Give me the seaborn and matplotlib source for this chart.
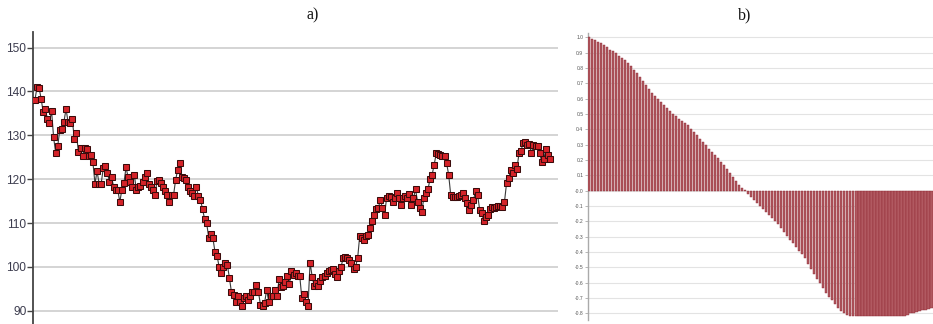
import numpy as np
import pandas as pd
import matplotlib
matplotlib.use("Agg")
import matplotlib.pyplot as plt
import seaborn as sns

# ---- data: panel a) price series ----
series_a = [
    138.1, 141.1, 140.8, 138.2, 135.2, 136.0, 133.7, 132.8, 135.6, 129.5,
    126.0, 127.6, 131.3, 131.4, 133.1, 136.0, 133.0, 132.9, 133.8, 129.2,
    130.6, 126.1, 127.1, 125.2, 127.1, 126.9, 125.3, 125.6, 123.8, 119.0,
    121.8, 119.0, 119.0, 122.5, 122.9, 121.5, 119.3, 120.5, 118.3, 117.6,
    117.6, 114.8, 117.6, 119.1, 122.7, 120.5, 119.3, 118.3, 121.0, 117.6,
    118.3, 118.5, 119.3, 120.6, 121.5, 119.0, 118.3, 117.6, 116.4, 119.5,
    119.9, 119.1, 118.2, 117.2, 116.4, 114.9, 116.4, 116.4, 119.9, 122.1,
    123.7, 120.6, 120.2, 119.9, 118.3, 117.2, 116.8, 116.1, 118.3, 116.1,
    115.3, 113.2, 110.9, 110.0, 106.6, 107.6, 106.6, 103.5, 102.6, 100.1,
    98.7, 100.1, 100.9, 100.5, 97.5, 94.2, 93.7, 92.1, 93.3, 92.1,
    91.0, 92.9, 93.3, 92.5, 93.3, 94.4, 94.4, 96.0, 94.4, 91.4,
    91.0, 91.8, 94.8, 92.1, 93.3, 93.3, 94.8, 93.3, 97.2, 95.4,
    95.6, 96.5, 98.0, 96.2, 99.0, 98.2, 98.6, 98.0, 98.0, 92.9,
    93.9, 91.9, 91.0, 101.0, 97.8, 95.7, 96.3, 95.7, 96.7, 97.8,
    98.0, 98.6, 99.0, 99.2, 99.5, 98.4, 97.8, 99.0, 100.1, 102.0,
    102.3, 102.0, 101.5, 100.9, 99.5, 100.1, 102.0, 107.1, 106.6, 106.2,
    107.0, 107.3, 108.8, 110.4, 111.9, 113.3, 113.4, 115.3, 113.4, 111.9,
    115.7, 116.1, 115.9, 114.9, 115.7, 116.8, 115.7, 114.2, 115.7, 116.1,
    115.7, 116.7, 114.2, 115.7, 117.7, 114.7, 113.4, 112.6, 115.7, 116.8,
    117.7, 120.0, 121.0, 123.3, 125.9, 125.8, 125.6, 125.2, 125.2, 123.7,
    121.0, 116.4, 115.9, 115.9, 115.9, 116.2, 116.4, 116.8, 115.7, 114.6,
    113.0, 114.2, 115.3, 117.2, 116.4, 113.0, 112.3, 110.4, 111.4, 111.9,
    113.2, 113.6, 113.4, 113.6, 113.9, 113.9, 113.6, 114.9, 119.1, 120.2,
    122.1, 121.4, 123.3, 122.3, 125.9, 126.5, 128.2, 128.4, 127.8, 128.1,
    125.9, 127.8, 127.6, 127.6, 125.9, 124.0, 124.6, 126.9, 125.6, 124.6,
]
yticks_a = [90, 100, 110, 120, 130, 140, 150]

# ---- data: panel b) autocorrelation ----
acf_b = [
    1.00, 0.99, 0.98, 0.97, 0.96, 0.95, 0.935, 0.92, 0.91, 0.895,
    0.88, 0.865, 0.85, 0.83, 0.81, 0.79, 0.765, 0.74, 0.715, 0.69,
    0.665, 0.64, 0.62, 0.60, 0.58, 0.56, 0.54, 0.52, 0.50, 0.485,
    0.47, 0.455, 0.44, 0.425, 0.405, 0.385, 0.36, 0.34, 0.315, 0.295,
    0.27, 0.25, 0.23, 0.21, 0.19, 0.165, 0.14, 0.115, 0.09, 0.065,
    0.04, 0.02, 0.003, -0.02, -0.04, -0.06, -0.08, -0.10, -0.12, -0.14,
    -0.16, -0.18, -0.20, -0.22, -0.245, -0.27, -0.295, -0.32, -0.34, -0.365,
    -0.39, -0.415, -0.44, -0.475, -0.51, -0.545, -0.575, -0.605, -0.635, -0.665,
    -0.69, -0.715, -0.74, -0.765, -0.785, -0.80, -0.81, -0.815, -0.82, -0.82,
    -0.82, -0.82, -0.82, -0.82, -0.82, -0.82, -0.82, -0.82, -0.82, -0.82,
    -0.82, -0.82, -0.82, -0.82, -0.82, -0.815, -0.81, -0.80, -0.795, -0.79,
    -0.785, -0.78, -0.775, -0.77, -0.765,
]
yticks_b = [round(v, 1) for v in np.arange(-0.8, 1.01, 0.1)]
titles = ["a)", "b)"]

sns.set_theme(style="white")
plt.rcParams['font.family'] = ['Liberation Sans', 'DejaVu Sans']

W, H = 933, 324
fig = plt.figure(figsize=(W / 100, H / 100), dpi=100)

# ---------- panel a ----------
axl, axr_px = 33.3, 558.0
ax1 = fig.add_axes([axl / W, 0.0, (axr_px - axl) / W, 1 - 31.7 / H])
df_a = pd.DataFrame({"t": np.arange(len(series_a)), "v": series_a})
sns.lineplot(data=df_a, x="t", y="v", ax=ax1, color="#3a3a3a", linewidth=0.8,
             marker="s", markersize=4.3, markerfacecolor="#d42329",
             markeredgecolor="#3b0b0b", markeredgewidth=0.75, zorder=3)
n = len(series_a)
ppi = (550.0 - 35.0) / (n - 1)
ax1.set_xlim(-(35.0 - axl) / ppi, (n - 1) + (axr_px - 550.0) / ppi)
ax1.set_ylim(87.0, 153.6)
ax1.set_yticks(yticks_a)
ax1.set_yticklabels([str(v) for v in yticks_a], fontsize=8.6, color="#3c3c4e")
ax1.set_xticks([])
ax1.set_xlabel("")
ax1.set_ylabel("")
ax1.grid(axis="y", color="#d4d4d4", linewidth=1.4)
ax1.set_axisbelow(True)
for s in ["top", "right", "bottom"]:
    ax1.spines[s].set_visible(False)
ax1.spines["left"].set_color("#444444")
ax1.spines["left"].set_linewidth(1.3)
ax1.tick_params(axis="y", left=True, length=4, width=1.0, color="#444444", pad=1)

# ---------- panel b ----------
bl, br = 587.5, 933.0
top_px, bot_px = 33.3, 320.0
ax2 = fig.add_axes([bl / W, 1 - bot_px / H, (br - bl) / W, (bot_px - top_px) / H])
df_b = pd.DataFrame({"lag": np.arange(len(acf_b)), "acf": acf_b})
sns.barplot(data=df_b, x="lag", y="acf", ax=ax2, color="#c04a55",
            edgecolor="#8e2630", linewidth=0.3, width=0.74, zorder=3)
m = len(acf_b)
ax2.set_xlim(-0.5, m - 0.5)
ax2.set_ylim(-0.843, 1.026)
ax2.set_yticks(yticks_b)
ax2.set_yticklabels([f"{v:.1f}" for v in yticks_b], fontsize=3.6, color="#555555")
ax2.set_xticks([])
ax2.set_xlabel("")
ax2.set_ylabel("")
ax2.grid(axis="y", color="#e3e3e3", linewidth=0.8)
ax2.set_axisbelow(True)
for s in ["top", "right", "bottom"]:
    ax2.spines[s].set_visible(False)
ax2.spines["left"].set_color("#aaaaaa")
ax2.spines["left"].set_linewidth(1.0)
ax2.tick_params(axis="y", left=True, length=2, width=0.6, color="#aaaaaa", pad=1)

fig.text(313 / W, 1 - 15 / H, titles[0], ha="center", va="center",
         fontsize=11.5, family=["Liberation Serif", "DejaVu Serif"], color="#111111")
fig.text(745 / W, 1 - 15 / H, titles[1], ha="center", va="center",
         fontsize=11.5, family=["Liberation Serif", "DejaVu Serif"], color="#111111")

fig.savefig("out.png", dpi=100, facecolor="white")
